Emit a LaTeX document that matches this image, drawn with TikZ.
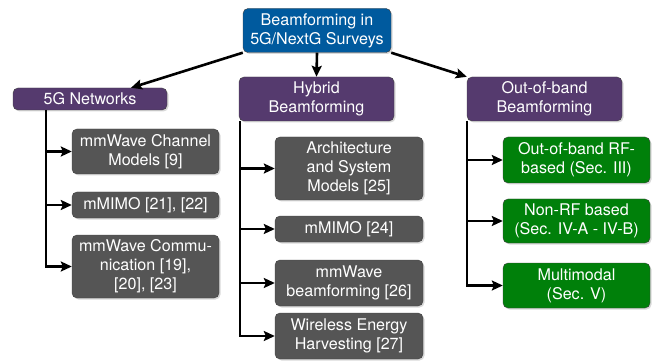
\documentclass[tikz,border=0pt]{standalone}
\usepackage{fontspec}
\setmainfont{TeX Gyre Heros}
\usepackage{xcolor}
\usepackage{tikz}
\usetikzlibrary{arrows.meta,shadows}
\definecolor{SurveyBlue}{HTML}{005A9E}
\definecolor{TopicPurple}{HTML}{553A6E}
\definecolor{LeafGray}{HTML}{555555}
\definecolor{LeafGreen}{HTML}{00800A}

\begin{document}
\begin{tikzpicture}[
  x=1pt, y=-1pt,
  base/.style={draw=black!75, rounded corners=5pt, align=center, text=white, inner sep=2pt,
    font=\fontsize{16.1}{19}\selectfont,
    drop shadow={shadow xshift=1.5pt, shadow yshift=-1.5pt, fill=black!30}},
  rootbox/.style={base, fill=SurveyBlue, minimum width=148pt, minimum height=44pt},
  topic/.style={base, fill=TopicPurple, minimum width=155pt},
  leaf/.style={base, fill=LeafGray, minimum width=147pt},
  oobleaf/.style={base, fill=LeafGreen, minimum width=147pt},
  arrow/.style={-{Stealth[length=11pt,width=10pt,inset=2pt]}, line width=2.6pt}
]
\useasboundingbox (0,0) rectangle (660,363);

% root and the three topics
\node[rootbox] (root) at (317,30.5) {Beamforming in\\5G/NextG Surveys};
\node[topic, minimum width=154pt, minimum height=22pt] (net) at (90,99) {5G Networks};
\node[topic, minimum height=44pt] (hybrid) at (316.5,99) {Hybrid\\Beamforming};
\node[topic, minimum height=44pt] (oob) at (544.5,99) {Out-of-band\\Beamforming};

% 5G networks
\node[leaf, minimum height=45pt] (chan) at (145.5,151.5) {mmWave Channel\\Models [9]};
\node[leaf, minimum height=26pt] (mimoA) at (145.5,205) {mMIMO [21], [22]};
\node[leaf, minimum height=63pt] (comm) at (145.5,266.5) {mmWave Commu-\\nication [19],\\{}[20], [23]};

% hybrid beamforming
\node[leaf, minimum width=148pt, minimum height=63pt] (arch) at (349,168.5) {Architecture\\and System\\Models [25]};
\node[leaf, minimum width=148pt, minimum height=26pt] (mimoB) at (349,229) {mMIMO [24]};
\node[leaf, minimum width=148pt, minimum height=46pt] (mmbf) at (349,283) {mmWave\\beamforming [26]};
\node[leaf, minimum width=148pt, minimum height=46pt] (energy) at (349,336) {Wireless Energy\\Harvesting [27]};

% out-of-band
\node[oobleaf, minimum height=46pt] (rf) at (576.5,160) {Out-of-band RF-\\based (Sec. III)};
\node[oobleaf, minimum height=44pt] (nonrf) at (576.5,221) {Non-RF based\\(Sec. IV-A - IV-B)};
\node[oobleaf, minimum height=45pt] (multi) at (576.5,285.5) {Multimodal\\(Sec. V)};

\draw[arrow] (root.south west) -- ([xshift=41pt]net.north);
\draw[arrow] (root.south) -- (hybrid.north);
\draw[arrow] (root.south east) -- (oob.north west);

% trunks
\coordinate (netT) at (46,110);
\coordinate (hybT) at (240,121);
\coordinate (oobT) at (467,121);

\draw[arrow] (netT |- chan) -- (chan);
\draw[arrow] (netT |- mimoA) -- (mimoA);
\draw[arrow] (netT) |- (comm);

\draw[arrow] (hybT |- arch) -- (arch);
\draw[arrow] (hybT |- mimoB) -- (mimoB);
\draw[arrow] (hybT |- mmbf) -- (mmbf);
\draw[arrow] (hybT) |- (energy);

\draw[arrow] (oobT |- rf) -- (rf);
\draw[arrow] (oobT |- nonrf) -- (nonrf);
\draw[arrow] (oobT) |- (multi);
\end{tikzpicture}
\end{document}
